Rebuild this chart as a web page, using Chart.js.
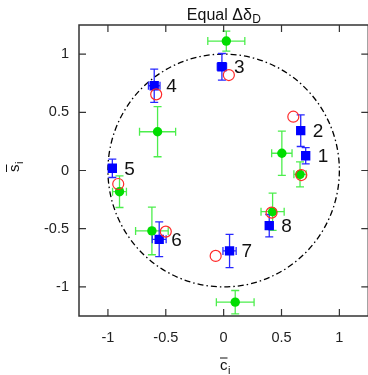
<!DOCTYPE html>
<html>
<head>
<meta charset="utf-8">
<script src="https://cdn.jsdelivr.net/npm/chart.js@4.4.1/dist/chart.umd.min.js"></script>
<style>
    html, body { margin: 0; padding: 0; background: #fff; overflow: hidden; }
    #wrap { width: 375px; height: 375px; }
</style>
</head>
<body>
<div id="wrap"><canvas id="chart" width="375" height="375"></canvas></div>
<script>
// Site labels, one per point group
const siteLabels = ['1', '2', '3', '4', '5', '6', '7', '8'];

// Blue squares: fitted (c, s) with errors
const fitC = [0.709, 0.666, -0.015, -0.600, -0.962, -0.557, 0.051, 0.394];
const fitS = [0.127, 0.342, 0.891, 0.728, 0.019, -0.591, -0.691, -0.474];
const fitErrC = [0.03, 0.03, 0.04, 0.05, 0.03, 0.06, 0.057, 0.03];
const fitErrS = [0.07, 0.136, 0.114, 0.143, 0.079, 0.149, 0.143, 0.096];

// Green dots: measured (c, s) with errors
const measC = [0.660, 0.503, 0.023, -0.571, -0.900, -0.620, 0.100, 0.423];
const measS = [-0.033, 0.148, 1.112, 0.333, -0.182, -0.519, -1.131, -0.354];
const measErrC = [0.053, 0.088, 0.16, 0.156, 0.06, 0.141, 0.163, 0.10];
const measErrS = [0.107, 0.19, 0.086, 0.215, 0.136, 0.205, 0.10, 0.16];

// Red open circles: model (c, s)
const modelC = [0.671, 0.602, 0.045, -0.583, -0.911, -0.500, -0.069, 0.414];
const modelS = [-0.039, 0.462, 0.820, 0.654, -0.116, -0.525, -0.734, -0.362];

// Axes
const tickValues = [-1, -0.5, 0, 0.5, 1];
const axisMin = -1.25;
const axisMax = 1.25;
const circleRadius = 1;

const FONT = '"Liberation Sans", Arial, Helvetica, sans-serif';

function toPoints(xs, ys) {
    return xs.map((v, i) => ({ x: v, y: ys[i] }));
}

function drawErrors(ctx, x, y, cs, ss, ec, es, color) {
    const cap = 4;
    ctx.strokeStyle = color;
    ctx.lineWidth = 1.3;
    cs.forEach((c, i) => {
        const px = x.getPixelForValue(c), py = y.getPixelForValue(ss[i]);
        const x0 = x.getPixelForValue(c - ec[i]), x1 = x.getPixelForValue(c + ec[i]);
        const y0 = y.getPixelForValue(ss[i] - es[i]), y1 = y.getPixelForValue(ss[i] + es[i]);
        ctx.beginPath();
        ctx.moveTo(x0, py); ctx.lineTo(x1, py);
        ctx.moveTo(x0, py - cap); ctx.lineTo(x0, py + cap);
        ctx.moveTo(x1, py - cap); ctx.lineTo(x1, py + cap);
        ctx.moveTo(px, y0); ctx.lineTo(px, y1);
        ctx.moveTo(px - cap, y0); ctx.lineTo(px + cap, y0);
        ctx.moveTo(px - cap, y1); ctx.lineTo(px + cap, y1);
        ctx.stroke();
    });
}

// Unit circle, error bars, frame, inward ticks and titles
const decor = {
    id: 'decor',
    beforeDatasetsDraw(chart) {
        const { ctx, chartArea: a, scales: { x, y } } = chart;
        ctx.save();
        ctx.beginPath();
        ctx.rect(a.left, a.top, a.right - a.left, a.bottom - a.top);
        ctx.clip();

        const cx = x.getPixelForValue(0), cy = y.getPixelForValue(0);
        const rx = x.getPixelForValue(circleRadius) - cx;
        const ry = cy - y.getPixelForValue(circleRadius);
        ctx.setLineDash([6, 3, 1.5, 3]);
        ctx.strokeStyle = '#000';
        ctx.lineWidth = 1.3;
        ctx.beginPath();
        ctx.ellipse(cx, cy, rx, ry, 0, 0, 2 * Math.PI);
        ctx.stroke();
        ctx.setLineDash([]);

        drawErrors(ctx, x, y, measC, measS, measErrC, measErrS, '#4cee4c');
        drawErrors(ctx, x, y, fitC, fitS, fitErrC, fitErrS, '#2828ff');
        ctx.restore();
    },
    afterDraw(chart) {
        const { ctx, chartArea: a, scales: { x, y } } = chart;
        ctx.save();

        // site numbers next to the blue squares
        ctx.fillStyle = '#111';
        ctx.font = '19px ' + FONT;
        ctx.textAlign = 'left';
        ctx.textBaseline = 'middle';
        siteLabels.forEach((t, i) => {
            ctx.fillText(t, x.getPixelForValue(fitC[i]) + 12, y.getPixelForValue(fitS[i]) + 1);
        });

        // frame
        ctx.strokeStyle = '#333';
        ctx.lineWidth = 1.5;
        ctx.strokeRect(a.left, a.top, a.right - a.left, a.bottom - a.top);

        // inward ticks on all four sides
        const tl = 7;
        ctx.lineWidth = 1.2;
        ctx.beginPath();
        tickValues.forEach(v => {
            const px = x.getPixelForValue(v);
            ctx.moveTo(px, a.bottom); ctx.lineTo(px, a.bottom - tl);
            ctx.moveTo(px, a.top); ctx.lineTo(px, a.top + tl);
            const py = y.getPixelForValue(v);
            ctx.moveTo(a.left, py); ctx.lineTo(a.left + tl, py);
            ctx.moveTo(a.right, py); ctx.lineTo(a.right - tl, py);
        });
        ctx.stroke();

        // title: Equal Δδ_D
        ctx.fillStyle = '#111';
        ctx.textBaseline = 'alphabetic';
        ctx.textAlign = 'left';
        const mainT = 'Equal \u0394\u03b4', subT = 'D';
        ctx.font = '16px ' + FONT;
        const wMain = ctx.measureText(mainT).width;
        ctx.font = '12px ' + FONT;
        const wSub = ctx.measureText(subT).width;
        const tx = (a.left + a.right) / 2 - (wMain + wSub) / 2;
        ctx.font = '16px ' + FONT;
        ctx.fillText(mainT, tx, 20);
        ctx.font = '12px ' + FONT;
        ctx.fillText(subT, tx + wMain + 0.5, 23);

        // axis titles with overline and subscript
        const axisTitle = (letter) => {
            ctx.font = '15px ' + FONT;
            const w = ctx.measureText(letter).width;
            ctx.fillText(letter, 0, 0);
            ctx.strokeStyle = '#111';
            ctx.lineWidth = 1;
            ctx.beginPath();
            ctx.moveTo(0, -12); ctx.lineTo(w, -12);
            ctx.stroke();
            ctx.font = '11px ' + FONT;
            ctx.fillText('i', w + 0.5, 4);
        };
        ctx.save();
        ctx.translate(220, 370);
        axisTitle('c');
        ctx.restore();
        ctx.save();
        ctx.translate(18.5, 172);
        ctx.rotate(-Math.PI / 2);
        axisTitle('s');
        ctx.restore();

        ctx.restore();
    }
};

const tickFont = { family: FONT, size: 14.5 };

new Chart(document.getElementById('chart').getContext('2d'), {
    type: 'scatter',
    data: {
        datasets: [
            {
                label: 'model',
                data: toPoints(modelC, modelS),
                pointStyle: 'circle',
                pointRadius: 5.5,
                backgroundColor: 'rgba(0,0,0,0)',
                borderColor: '#ff2a2a',
                borderWidth: 1.2
            },
            {
                label: 'fit',
                data: toPoints(fitC, fitS),
                pointStyle: 'rect',
                pointRadius: 6.6,
                backgroundColor: '#0000ff',
                borderColor: '#0000ff',
                borderWidth: 0
            },
            {
                label: 'measured',
                data: toPoints(measC, measS),
                pointStyle: 'circle',
                pointRadius: 4.7,
                backgroundColor: '#00dd00',
                borderColor: '#00dd00',
                borderWidth: 0
            }
        ]
    },
    options: {
        responsive: false,
        animation: false,
        events: [],
        layout: { padding: { top: 25, right: 4.6, left: 0, bottom: 0 } },
        plugins: { legend: { display: false }, tooltip: { enabled: false } },
        scales: {
            x: {
                type: 'linear',
                min: axisMin,
                max: axisMax,
                grid: { display: false, drawTicks: false },
                border: { display: false },
                afterBuildTicks: s => { s.ticks = tickValues.map(v => ({ value: v })); },
                afterFit: s => { s.height = 59; },
                ticks: { padding: 13, color: '#222', font: tickFont, callback: v => String(v) }
            },
            y: {
                type: 'linear',
                min: axisMin,
                max: axisMax,
                grid: { display: false, drawTicks: false },
                border: { display: false },
                afterBuildTicks: s => { s.ticks = tickValues.map(v => ({ value: v })); },
                afterFit: s => { s.width = 79; },
                ticks: { padding: 10, color: '#222', font: tickFont, callback: v => String(v) }
            }
        }
    },
    plugins: [decor]
});
</script>
</body>
</html>
